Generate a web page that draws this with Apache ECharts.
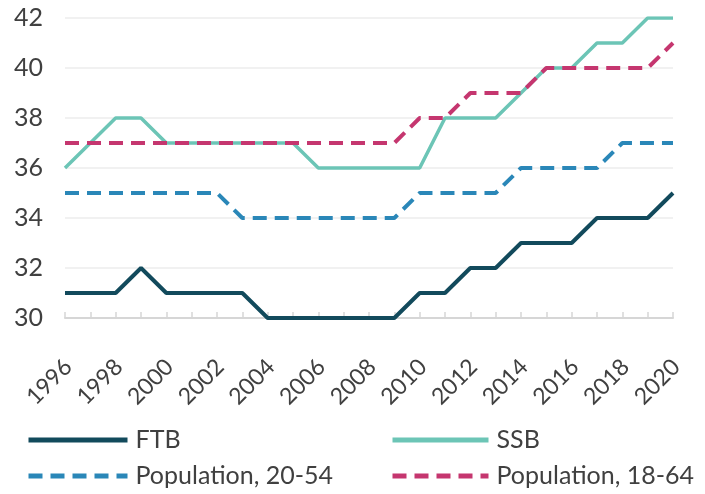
<!DOCTYPE html>
<html>
<head>
<meta charset="utf-8">
<script src="https://cdn.jsdelivr.net/npm/echarts@6/dist/echarts.min.js"></script>
<style>html,body{margin:0;padding:0;background:#fff}#c{width:705px;height:494px}</style>
</head>
<body>
<div id="c"></div>
<script>
var years = ['1996','1997','1998','1999','2000','2001','2002','2003','2004','2005','2006','2007','2008','2009','2010','2011','2012','2013','2014','2015','2016','2017','2018','2019','2020'];
var ftb    = [31,31,31,32,31,31,31,31,30,30,30,30,30,30,31,31,32,32,33,33,33,34,34,34,35];
var ssb    = [36,37,38,38,37,37,37,37,37,37,36,36,36,36,36,38,38,38,39,40,40,41,41,42,42];
var pop2054 = [35,35,35,35,35,35,35,34,34,34,34,34,34,34,35,35,35,35,36,36,36,36,37,37,37];
var pop1864 = [37,37,37,37,37,37,37,37,37,37,37,37,37,37,38,38,39,39,39,40,40,40,40,40,41];
var yTicks = [30,32,34,36,38,40,42];

var FONT = 'Lato';
var chart = echarts.init(document.getElementById('c'));
function line(name, data, color, width, dash) {
  return {
    name: name, type: 'line', data: data, symbol: 'none', smooth: false,
    lineStyle: { color: color, width: width, type: dash ? [14, 8] : 'solid', cap: 'butt' },
    itemStyle: { color: color },
    emphasis: { disabled: true }
  };
}
function leg(name, left, top, w) {
  return {
    data: [name], left: left, top: top, itemWidth: w, itemHeight: 14, padding: 0,
    selectedMode: false,
    itemStyle: { opacity: 0, borderWidth: 0 },
    lineStyle: { width: 5 },
    textStyle: { fontFamily: FONT, fontSize: 25, color: '#404040', lineHeight: 30, padding: [0,0,0,3] }
  };
}
chart.setOption({
  animation: false,
  backgroundColor: '#ffffff',
  grid: { left: 65, right: 32, top: 18, bottom: 176 },
  xAxis: {
    type: 'category', data: years, boundaryGap: false,
    axisLine: { show: true, lineStyle: { color: '#d6d6d6', width: 2 } },
    axisTick: { show: true, inside: true, length: 6, interval: 0, lineStyle: { color: '#d6d6d6', width: 1.5 } },
    axisLabel: { interval: 1, rotate: 45, margin: 32, verticalAlign: 'top', padding: [0, 7, 0, 0], fontFamily: FONT, fontSize: 23, color: '#404040' },
    splitLine: { show: false }
  },
  yAxis: {
    type: 'value', min: yTicks[0], max: yTicks[yTicks.length-1], interval: 2,
    axisLine: { show: false }, axisTick: { show: false },
    axisLabel: { margin: 22, fontFamily: FONT, fontSize: 25, color: '#404040' },
    splitLine: { show: true, lineStyle: { color: '#ececec', width: 1.5 } }
  },
  legend: [
    leg('FTB', 26, 425, 99),
    leg('Population, 20-54', 26, 461, 99),
    leg('SSB', 390, 425, 96),
    leg('Population, 18-64', 390, 461, 96)
  ],
  series: [
    line('SSB', ssb, '#6cc5b6', 3.5, false),
    line('Population, 18-64', pop1864, '#c5366f', 4, true),
    line('Population, 20-54', pop2054, '#2a87b8', 4, true),
    line('FTB', ftb, '#124a5c', 4, false)
  ]
});
</script>
</body>
</html>
